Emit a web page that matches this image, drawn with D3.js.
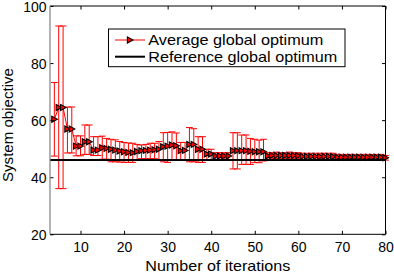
<!DOCTYPE html>
<html><head><meta charset="utf-8">
<script src="https://cdn.jsdelivr.net/npm/d3@7"></script>
<style>body{margin:0;background:#fff}svg{display:block}</style>
</head><body><script>
const iterations = [4,5,6,7,8,9,10,11,12,13,14,15,16,17,18,19,20,21,22,23,24,25,26,27,28,29,30,31,32,33,34,35,36,37,38,39,40,41,42,43,44,45,46,47,48,49,50,51,52,53,54,55,56,57,58,59,60,61,62,63,64,65,66,67,68,69,70,71,72,73,74,75,76,77,78,79,80];
const meanObjective = [
 60.3,64.4,64.4,56.9,56.9,50.9,50.9,52.4,52.4,49.5,
 49.5,50.3,50.1,49.8,49.5,49.2,48.9,48.7,48.6,49.0,
 49.3,49.4,49.5,49.6,49.8,50.7,50.9,51.3,51.0,49.3,
 49.4,51.5,51.5,49.8,49.8,48.1,48.1,47.4,47.4,47.4,
 47.4,49.3,49.3,49.3,49.3,49.1,48.9,48.9,48.9,47.4,
 47.6,47.6,47.6,47.6,47.6,47.6,47.5,47.3,47.3,47.3,
 47.3,47.2,47.3,47.3,47.2,47.0,47.0,47.0,47.0,47.0,
 47.0,47.0,47.0,47.0,47.0,47.0,46.8];
const upperObjective = [
 73.2,93.0,93.0,64.6,64.6,54.5,54.5,58.3,58.3,54.2,
 54.2,54.4,53.6,53.3,53.1,52.5,52.2,52.0,51.9,51.5,
 51.3,51.5,51.9,51.9,52.5,55.6,55.7,55.9,55.5,52.2,
 52.2,57.4,57.0,54.2,54.2,49.8,49.8,48.6,48.6,48.6,
 48.6,55.6,55.6,54.8,54.8,53.6,53.3,53.0,53.3,48.6,
 48.6,48.8,48.6,48.6,48.8,48.6,48.6,48.4,48.4,48.4,
 48.4,48.4,48.4,48.4,48.4,48.0,48.0,48.0,48.0,48.0,
 48.0,48.0,48.0,48.0,48.0,48.0,47.6];
const lowerObjective = [
 47.4,36.0,36.0,48.5,48.5,47.5,47.5,48.0,48.0,47.6,
 47.6,46.3,46.3,45.4,45.4,45.3,45.2,45.2,45.2,46.0,
 46.5,46.5,46.5,46.5,46.0,45.4,45.2,46.0,46.0,46.0,
 46.0,45.4,45.4,45.2,45.2,46.2,46.2,46.2,46.2,46.2,
 46.2,42.9,42.9,44.5,44.5,44.5,45.1,45.1,45.7,46.2,
 46.6,46.6,46.6,46.6,46.6,46.6,46.4,46.2,46.2,46.2,
 46.2,46.2,46.2,46.2,46.2,46.0,46.0,46.0,46.0,46.0,
 46.0,46.0,46.0,46.0,46.0,46.0,46.0];
const referenceObjective = 46;
const xDomain = [3, 80];
const yDomain = [20, 100];
const xTicks = [10,20,30,40,50,60,70,80];
const yTicks = [20,40,60,80,100];
const legendLabels = ["Average global optimum", "Reference global optimum"];
const xTitle = "Number of iterations";
const yTitle = "System objective";

const W = 394, H = 274, L = 50, R = 385.5, T = 6, B = 234.3;
const FONT = '"Liberation Sans", Arial, Helvetica, sans-serif';
const svg = d3.select("body").append("svg").attr("width", W).attr("height", H);
svg.append("rect").attr("width", W).attr("height", H).attr("fill", "#fff");

const x = d3.scaleLinear(xDomain, [L, R]);
const y = d3.scaleLinear(yDomain, [B, T]);

const data = iterations.map((it, i) => ({it, m: meanObjective[i], lo: lowerObjective[i], hi: upperObjective[i]}));
const cap = 3.4;

// error bars
svg.append("g").selectAll("path").data(data).join("path")
  .attr("d", d => `M${x(d.it)},${y(d.lo)}V${y(d.hi)}M${x(d.it)-cap},${y(d.hi)}h${2*cap}M${x(d.it)-cap},${y(d.lo)}h${2*cap}`)
  .attr("stroke", "#ff0000").attr("stroke-width", 1).attr("fill", "none");

// connecting line
svg.append("path").datum(data)
  .attr("d", d3.line().x(d => x(d.it)).y(d => y(d.m)))
  .attr("stroke", "#ff0000").attr("stroke-width", 1).attr("fill", "none");

// markers
const tri = "M-2.6,-3L3,0L-2.6,3Z";
svg.append("g").selectAll("path").data(data).join("path")
  .attr("d", tri)
  .attr("transform", d => `translate(${x(d.it)},${y(d.m)})`)
  .attr("fill", "#ff0000").attr("stroke", "#000").attr("stroke-width", 1.1);

// reference line
svg.append("line")
  .attr("x1", x(xDomain[0])).attr("x2", x(xDomain[1]))
  .attr("y1", y(referenceObjective)).attr("y2", y(referenceObjective))
  .attr("stroke", "#000").attr("stroke-width", 2);

// axes
function style(g){
  g.attr("font-family", FONT).attr("font-size", 14).attr("color", "#000");
  g.select(".domain").remove();
}
svg.append("g").attr("transform", `translate(0,${B})`)
  .call(d3.axisBottom(x).tickValues(xTicks).tickSizeInner(-3.5).tickSizeOuter(0).tickPadding(7.8)).call(style);
svg.append("g").attr("transform", `translate(0,${T})`)
  .call(d3.axisTop(x).tickValues(xTicks).tickSizeInner(-3.5).tickSizeOuter(0).tickFormat("")).call(style);
svg.append("g").attr("transform", `translate(${L},0)`)
  .call(d3.axisLeft(y).tickValues(yTicks).tickSizeInner(-3.5).tickSizeOuter(0).tickPadding(3.5)).call(style)
  .call(g => g.selectAll("text").attr("dy", "0.38em"));
svg.append("g").attr("transform", `translate(${R},0)`)
  .call(d3.axisRight(y).tickValues(yTicks).tickSizeInner(-3.5).tickSizeOuter(0).tickFormat("")).call(style);

// frame
svg.append("path").attr("d", `M${L},${T}H${R}V${B}H${L}`).attr("fill", "none").attr("stroke", "#000").attr("stroke-width", 1);
svg.append("line").attr("x1", L).attr("x2", L).attr("y1", T).attr("y2", B).attr("stroke", "#808080").attr("stroke-width", 1.2);

// titles
svg.append("text").attr("x", (L + R) / 2).attr("y", 270.7).attr("text-anchor", "middle")
  .attr("font-family", FONT).attr("font-size", 14.5).attr("textLength", 145).attr("lengthAdjust", "spacingAndGlyphs").text(xTitle);
svg.append("text").attr("transform", "translate(12.8,125) rotate(-90)").attr("text-anchor", "middle")
  .attr("font-family", FONT).attr("font-size", 15).attr("textLength", 114).attr("lengthAdjust", "spacingAndGlyphs").text(yTitle);

// legend
const lg = svg.append("g");
lg.append("rect").attr("x", 108.5).attr("y", 29).attr("width", 236.5).attr("height", 37.7)
  .attr("fill", "#fff").attr("stroke", "#000").attr("stroke-width", 1);
const rows = [40, 56.7];
const legendWidths = [175, 189];
lg.append("line").attr("x1", 115).attr("x2", 145).attr("y1", rows[0]).attr("y2", rows[0]).attr("stroke", "#ff0000").attr("stroke-width", 1);
lg.append("path").attr("d", tri).attr("transform", `translate(130,${rows[0]})`).attr("fill", "#ff0000").attr("stroke", "#000").attr("stroke-width", 1.1);
lg.append("line").attr("x1", 115).attr("x2", 145).attr("y1", rows[1]).attr("y2", rows[1]).attr("stroke", "#000").attr("stroke-width", 2);
legendLabels.forEach((t, i) => {
  lg.append("text").attr("x", 148.3).attr("y", rows[i] + 5).attr("font-family", FONT).attr("font-size", 14.5)
    .attr("textLength", legendWidths[i]).attr("lengthAdjust", "spacingAndGlyphs").text(t);
});
</script></body></html>
